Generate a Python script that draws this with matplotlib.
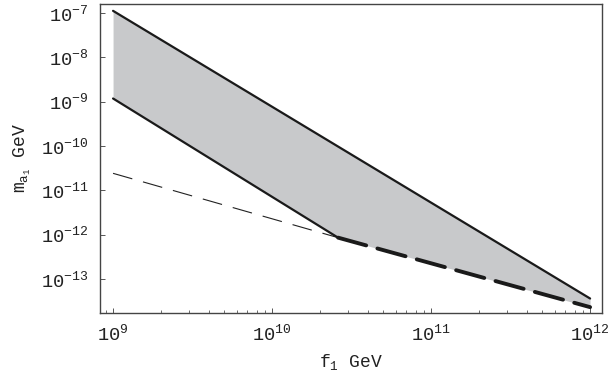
import numpy as np
import matplotlib
matplotlib.use("Agg")
import matplotlib.pyplot as plt
from matplotlib.ticker import LogLocator, FixedLocator, NullLocator

# Data
upper_f = [1e9, 1e12]
upper_m = [1.11e-7, 3.6e-14]
lower_solid_f = [1e9, 2.6e10]
lower_solid_m = [1.17e-9, 8.5e-13]
lower_dash_f = [2.6e10, 1e12]
lower_dash_m = [8.5e-13, 2.3e-14]
thin_f = [1e9, 2.6e10]
thin_m = [2.4e-11, 8.5e-13]

xticks = [1e9, 1e10, 1e11, 1e12]
xticklabels = [r"$10^{9}$", r"$10^{10}$", r"$10^{11}$", r"$10^{12}$"]
yticks = [1e-13, 1e-12, 1e-11, 1e-10, 1e-9, 1e-8, 1e-7]
yticklabels = [r"$10^{-13}$", r"$10^{-12}$", r"$10^{-11}$", r"$10^{-10}$",
               r"$10^{-9}$", r"$10^{-8}$", r"$10^{-7}$"]

plt.rcParams['font.family'] = ['Liberation Mono', 'DejaVu Sans']
plt.rcParams['mathtext.fontset'] = 'custom'
plt.rcParams['mathtext.rm'] = 'Liberation Mono'
plt.rcParams['mathtext.it'] = 'Liberation Mono'

fig = plt.figure(figsize=(6.11, 3.76), dpi=100)
ax = fig.add_axes([0.1637, 0.1676, 0.8216, 0.8218])
ax.set_xscale('log')
ax.set_yscale('log')

# shaded region: upper line vs lower boundary (solid then dashed)
lower_f = lower_solid_f + lower_dash_f[1:]
lower_m = lower_solid_m + lower_dash_m[1:]
fx = np.logspace(np.log10(upper_f[0]), np.log10(upper_f[-1]), 400)
up = 10 ** np.interp(np.log10(fx), np.log10(upper_f), np.log10(upper_m))
lo = 10 ** np.interp(np.log10(fx), np.log10(lower_f), np.log10(lower_m))
ax.fill_between(fx, lo, up, color='#c8c9cb', linewidth=0, zorder=1)

ax.plot(thin_f, thin_m, color='#222222', lw=0.8, dashes=(18, 10), zorder=2)
ax.plot(upper_f, upper_m, color='#1a1a1a', lw=1.6, solid_capstyle='round', zorder=3)
ax.plot(lower_solid_f, lower_solid_m, color='#1a1a1a', lw=1.6, solid_capstyle='round', zorder=3)
ax.plot(lower_dash_f, lower_dash_m, color='#1a1a1a', lw=2.8, dashes=(7.5, 3),
        dash_capstyle='round', zorder=3)

ax.set_xlim(10 ** 8.918, 10 ** 12.075)
ax.set_ylim(10 ** -13.77, 10 ** -6.80)

ax.xaxis.set_major_locator(FixedLocator(xticks))
ax.set_xticklabels(xticklabels)
ax.xaxis.set_minor_locator(LogLocator(base=10, subs=np.arange(2, 10)))
ax.yaxis.set_major_locator(FixedLocator(yticks))
ax.set_yticklabels(yticklabels)
ax.yaxis.set_minor_locator(NullLocator())

for s in ax.spines.values():
    s.set_color('#444444')
    s.set_linewidth(1.0)

ax.tick_params(which='major', direction='in', length=3.5, width=0.7, color='#555555',
               labelsize=13.5, labelcolor='#222222', top=False, right=False)
ax.tick_params(which='minor', direction='in', length=2.2, width=0.6, color='#555555',
               top=False, right=False)
ax.tick_params(axis='x', which='major', pad=8)
ax.tick_params(axis='y', which='major', pad=8)

ax.set_xlabel(r"f$_1$ GeV", fontsize=13, color='#222222', labelpad=5)
ax.set_ylabel(r"m$_{\mathrm{a}_1}$ GeV", fontsize=13, color='#222222', labelpad=6)

fig.savefig("out.png", dpi=100)
